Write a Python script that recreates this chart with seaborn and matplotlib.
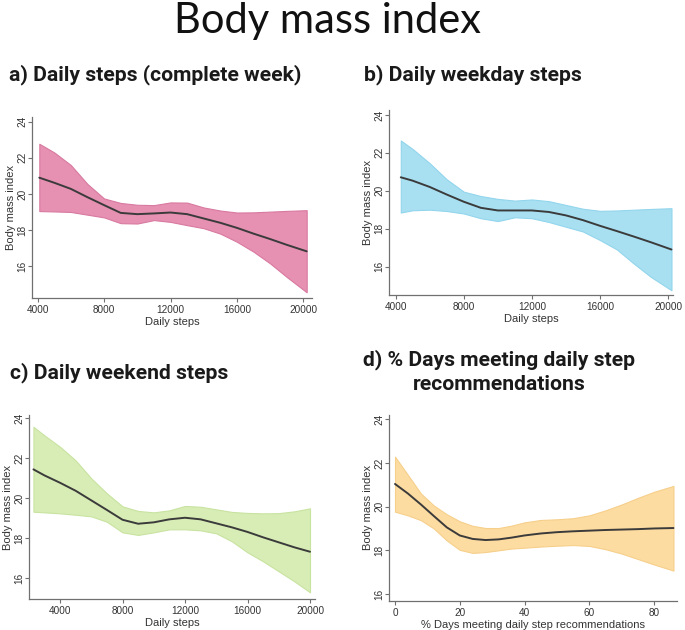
import numpy as np
import pandas as pd
import matplotlib
matplotlib.use("Agg")
import matplotlib.pyplot as plt
import seaborn as sns

# ---------------- data ----------------
steps_a = [4100, 5000, 6000, 7000, 8000, 9000, 10000, 11000, 12000, 13000,
           14000, 15000, 16000, 17000, 18000, 19000, 20200]
bmi_a = [20.90, 20.62, 20.28, 19.82, 19.38, 18.95, 18.88, 18.92, 18.97, 18.88,
         18.64, 18.40, 18.12, 17.80, 17.50, 17.18, 16.82]
upper_a = [22.78, 22.30, 21.60, 20.55, 19.75, 19.50, 19.40, 19.38, 19.53, 19.52,
           19.25, 19.08, 18.97, 18.98, 19.02, 19.06, 19.10]
lower_a = [19.05, 19.03, 19.00, 18.85, 18.70, 18.38, 18.36, 18.55, 18.45, 18.27,
           18.10, 17.80, 17.35, 16.80, 16.15, 15.40, 14.55]

steps_b = [4300, 5000, 6000, 7000, 8000, 9000, 10000, 11000, 12000, 13000,
           14000, 15000, 16000, 17000, 18000, 19000, 20200]
bmi_b = [20.71, 20.53, 20.20, 19.80, 19.42, 19.10, 18.96, 18.96, 18.96, 18.88,
         18.70, 18.45, 18.15, 17.87, 17.58, 17.28, 16.90]
upper_b = [22.65, 22.20, 21.45, 20.60, 19.95, 19.72, 19.57, 19.48, 19.54, 19.45,
           19.25, 19.05, 18.94, 18.96, 19.00, 19.04, 19.08]
lower_b = [18.85, 18.97, 19.00, 18.93, 18.80, 18.55, 18.40, 18.60, 18.55, 18.35,
           18.10, 17.85, 17.40, 16.90, 16.15, 15.45, 14.75]

steps_c = [2300, 3000, 4000, 5000, 6000, 7000, 8000, 9000, 10000, 11000, 12000,
           13000, 14000, 15000, 16000, 17000, 18000, 19000, 20000]
bmi_c = [21.45, 21.15, 20.78, 20.38, 19.90, 19.42, 18.93, 18.73, 18.80, 18.95, 19.03,
         18.95, 18.75, 18.55, 18.32, 18.05, 17.80, 17.55, 17.33]
upper_c = [23.58, 23.15, 22.58, 21.90, 21.00, 20.25, 19.60, 19.37, 19.30, 19.40, 19.62,
           19.58, 19.45, 19.32, 19.27, 19.25, 19.26, 19.35, 19.50]
lower_c = [19.33, 19.30, 19.25, 19.18, 19.10, 18.83, 18.30, 18.17, 18.30, 18.45, 18.45,
           18.40, 18.25, 17.85, 17.30, 16.85, 16.35, 15.85, 15.30]

pct_d = [0, 4, 8, 12, 16, 20, 24, 28, 32, 36, 40, 45, 50, 55, 60, 65, 70, 75, 80, 86]
bmi_d = [21.04, 20.60, 20.10, 19.57, 19.05, 18.68, 18.52, 18.47, 18.50, 18.58, 18.68,
         18.77, 18.83, 18.87, 18.90, 18.93, 18.95, 18.97, 19.00, 19.02]
upper_d = [22.29, 21.45, 20.60, 20.05, 19.65, 19.33, 19.12, 19.02, 19.02, 19.13, 19.28,
           19.39, 19.42, 19.47, 19.60, 19.83, 20.10, 20.40, 20.68, 20.95]
lower_d = [19.77, 19.60, 19.38, 19.00, 18.45, 18.02, 17.88, 17.92, 18.00, 18.08, 18.12,
           18.17, 18.21, 18.24, 18.20, 18.05, 17.85, 17.60, 17.35, 17.07]

main_title = "Body mass index"
panel_titles = ["a) Daily steps (complete week)", "b) Daily weekday steps",
                "c) Daily weekend steps", "d) % Days meeting daily step",
                "recommendations"]
x_labels = ["Daily steps", "Daily steps", "Daily steps",
            "% Days meeting daily step recommendations"]
y_label = "Body mass index"
y_ticks = [16, 18, 20, 22, 24]
x_ticks_steps = [4000, 8000, 12000, 16000, 20000]
x_ticks_pct = [0, 20, 40, 60, 80]

# ---------------- style ----------------
sns.set_style("ticks")
plt.rcParams["font.family"] = ["Liberation Sans", "DejaVu Sans"]

W, H = 685, 630
fig = plt.figure(figsize=(W / 100, H / 100), dpi=100)

def frac(left, bottom, right, top):
    return [left / W, 1 - bottom / H, (right - left) / W, (bottom - top) / H]

panels = [
    dict(x=steps_a, m=bmi_a, lo=lower_a, hi=upper_a, fill="#E690B2", edge="#D87AA0",
         rect=frac(32, 297.7, 312, 116.7), xlim=(3660, 20520), ylim=(14.25, 24.28),
         xt=x_ticks_steps),
    dict(x=steps_b, m=bmi_b, lo=lower_b, hi=upper_b, fill="#A8E0F2", edge="#92D5EC",
         rect=frac(389.3, 295, 673, 110), xlim=(3625, 20290), ylim=(14.5, 24.26),
         xt=x_ticks_steps),
    dict(x=steps_c, m=bmi_c, lo=lower_c, hi=upper_c, fill="#D8EDB6", edge="#C8E3A0",
         rect=frac(29.3, 599.3, 315, 415), xlim=(2035, 20320), ylim=(14.95, 24.17),
         xt=x_ticks_steps),
    dict(x=pct_d, m=bmi_d, lo=lower_d, hi=upper_d, fill="#FDDCA2", edge="#F6CF8A",
         rect=frac(389.3, 600.7, 676.7, 415), xlim=(-1.76, 87.0), ylim=(15.69, 24.2),
         xt=x_ticks_pct),
]

for i, p in enumerate(panels):
    ax = fig.add_axes(p["rect"])
    df = pd.DataFrame({"x": p["x"], "m": p["m"], "lo": p["lo"], "hi": p["hi"]})
    ax.fill_between(df["x"], df["lo"], df["hi"], facecolor=p["fill"],
                    edgecolor=p["edge"], linewidth=0.8, zorder=1)
    sns.lineplot(data=df, x="x", y="m", ax=ax, color="#3b3b3b", linewidth=1.4,
                 zorder=3, estimator=None)
    ax.set_xlim(*p["xlim"])
    ax.set_ylim(*p["ylim"])
    ax.set_xticks(p["xt"])
    ax.set_xticklabels([str(v) for v in p["xt"]])
    ax.set_yticks(y_ticks)
    ax.set_yticklabels([str(v) for v in y_ticks])
    for s in ["top", "right"]:
        ax.spines[s].set_visible(False)
    for s in ["left", "bottom"]:
        ax.spines[s].set_color("#707070")
        ax.spines[s].set_linewidth(0.9)
    ax.tick_params(axis="both", length=3, width=0.8, color="#707070",
                   labelsize=7.2, labelcolor="#333333")
    ax.tick_params(axis="x", pad=2)
    ax.tick_params(axis="y", labelrotation=90, pad=0.5)
    for lbl in ax.get_yticklabels():
        lbl.set_va("center")
    ax.set_xlabel(x_labels[i], fontsize=8, color="#333333", labelpad=1.5)
    ax.set_ylabel(y_label, fontsize=8, color="#333333", labelpad=1)
    ax.set_facecolor("white")

# titles
fig.text(328 / W, 1 - 33.5 / H, main_title, ha="center", va="baseline",
         fontsize=30, family=["Lato", "DejaVu Sans"], weight="normal", color="#111111")
title_kw = dict(fontsize=15.2, family=["Roboto", "DejaVu Sans"], weight="bold",
                color="#1a1a1a")
fig.text(9 / W, 1 - 80 / H, panel_titles[0], ha="left", va="baseline", **title_kw)
fig.text(364 / W, 1 - 80 / H, panel_titles[1], ha="left", va="baseline", **title_kw)
fig.text(10 / W, 1 - 378.5 / H, panel_titles[2], ha="left", va="baseline", **title_kw)
fig.text(499 / W, 1 - 365 / H, panel_titles[3], ha="center", va="baseline", **title_kw)
fig.text(499 / W, 1 - 390 / H, panel_titles[4], ha="center", va="baseline", **title_kw)

fig.savefig("out.png", dpi=100, facecolor="white")
